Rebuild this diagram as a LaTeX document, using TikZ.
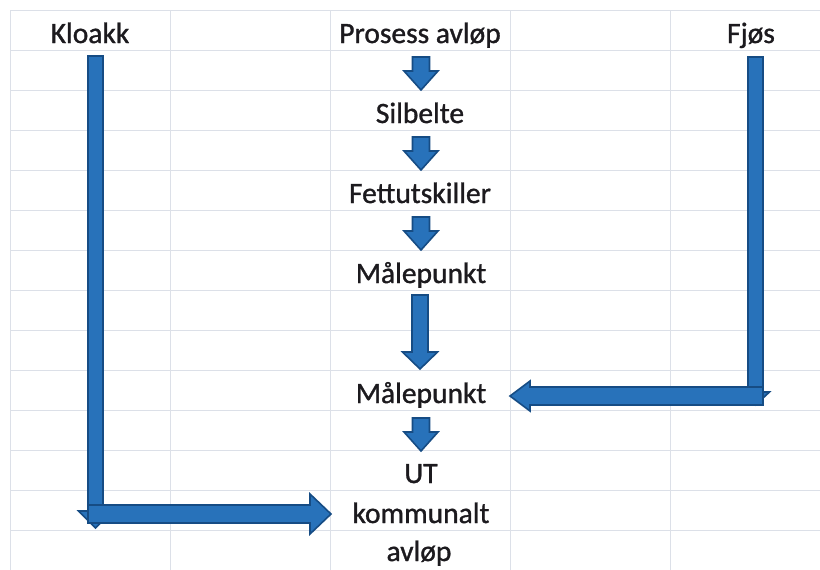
\documentclass[tikz,border=0pt]{standalone}
\usepackage{fontspec}
\setmainfont{Carlito}[RawFeature={embolden=1.1}]
\usetikzlibrary{calc}
\definecolor{gridc}{RGB}{220,224,232}
\definecolor{arrfill}{RGB}{40,114,186}
\definecolor{arrline}{RGB}{22,76,132}
\definecolor{txt}{RGB}{28,26,30}
\tikzset{
  lbl/.style={anchor=base, inner sep=0pt, text=txt, font=\fontsize{29.5}{35}\selectfont},
  blk/.style={fill=arrfill, draw=arrline, line width=1.6pt, line join=miter},
  gridline/.style={draw=gridc, line width=0.7pt}
}
% down arrow: #1 head length, #2 start, #3 tip, #4 shaft half width, #5 head half width
\newcommand\adown[5]{%
  \filldraw[blk] let \p1=(#2),\p2=(#3) in
   (\x1-#4pt,\y1) -- (\x1+#4pt,\y1) -- (\x1+#4pt,\y2+#1pt) -- (\x1+#5pt,\y2+#1pt)
   -- (\x1,\y2) -- (\x1-#5pt,\y2+#1pt) -- (\x1-#4pt,\y2+#1pt) -- cycle;}
\newcommand\aright[5]{%
  \filldraw[blk] let \p1=(#2),\p2=(#3) in
   (\x1,\y1+#4pt) -- (\x2-#1pt,\y1+#4pt) -- (\x2-#1pt,\y1+#5pt) -- (\x2,\y1)
   -- (\x2-#1pt,\y1-#5pt) -- (\x2-#1pt,\y1-#4pt) -- (\x1,\y1-#4pt) -- cycle;}
\newcommand\aleft[5]{%
  \filldraw[blk] let \p1=(#2),\p2=(#3) in
   (\x1,\y1+#4pt) -- (\x2+#1pt,\y1+#4pt) -- (\x2+#1pt,\y1+#5pt) -- (\x2,\y1)
   -- (\x2+#1pt,\y1-#5pt) -- (\x2+#1pt,\y1-#4pt) -- (\x1,\y1-#4pt) -- cycle;}
\begin{document}
\begin{tikzpicture}[x=1pt,y=-1pt]
\useasboundingbox (0,0) rectangle (820,570);
\fill[white] (0,0) rectangle (820,570);
% grid
\foreach \gx in {10,170,330,510,670} \draw[gridline] (\gx,10) -- (\gx,570);
\foreach \gy in {10,50,...,530} \draw[gridline] (10,\gy) -- (820,\gy);
% labels
\node[lbl] (kloakk) at (90,43) {Kloakk};
\node[lbl] (prosess) at (420,43) {Prosess avløp};
\node[lbl] (fjos) at (751,43) {Fjøs};
\node[lbl] (silbelte) at (420,123) {Silbelte};
\node[lbl] (fett) at (420,203) {Fettutskiller};
\node[lbl] (maal1) at (421,283) {Målepunkt};
\node[lbl] (maal2) at (421,403) {Målepunkt};
\node[lbl] (ut) at (421,483) {UT};
\node[lbl] (komm) at (421,523) {kommunalt};
\node[lbl] (avlop) at (419,561) {avløp};
% arrow coordinates
\coordinate (a1s) at (421,57);  \coordinate (a1e) at (421,90);
\coordinate (a2s) at (421,137); \coordinate (a2e) at (421,170);
\coordinate (a3s) at (421,217); \coordinate (a3e) at (421,250);
\coordinate (a4s) at (420,295); \coordinate (a4e) at (420,369);
\coordinate (a5s) at (421,418); \coordinate (a5e) at (421,451);
\coordinate (ks) at (95.5,56);  \coordinate (ke) at (95.5,528);
\coordinate (kh) at (88,514);   \coordinate (kt) at (331,514);
\coordinate (fs) at (755.5,57); \coordinate (fe) at (755.5,405);
\coordinate (fh) at (763,396);  \coordinate (ft) at (510,396);
% central arrows
\adown{19}{a1s}{a1e}{8.5}{17}
\adown{19}{a2s}{a2e}{8.5}{17}
\adown{19}{a3s}{a3e}{8.5}{17}
\adown{17}{a4s}{a4e}{8}{17.5}
\adown{19}{a5s}{a5e}{8.5}{17}
% Kloakk
\adown{17}{ks}{ke}{7.5}{17}
\aright{21}{kh}{kt}{9}{20}
% Fjos
\adown{13}{fs}{fe}{7.5}{14}
\aleft{20}{fh}{ft}{9}{15}
\end{tikzpicture}
\end{document}
